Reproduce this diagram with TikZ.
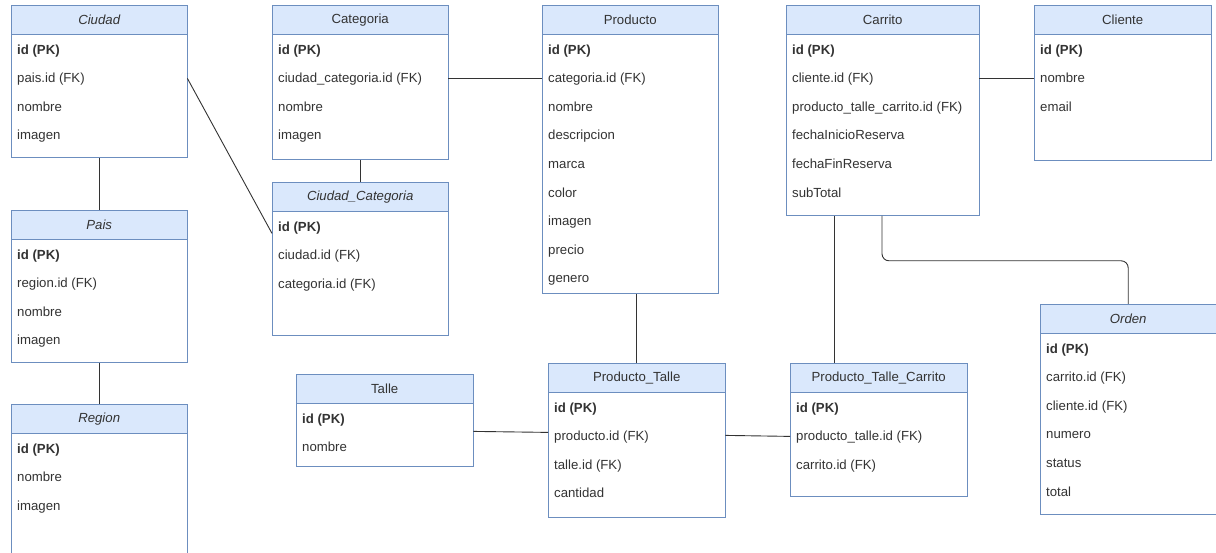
\documentclass[tikz,border=0pt]{standalone}
\usepackage{fontspec}
\setmainfont{Liberation Sans}
\usetikzlibrary{positioning}

\definecolor{erfill}{HTML}{DAE8FC}
\definecolor{erline}{HTML}{6C8EBF}
\definecolor{ertext}{HTML}{333333}

\begin{document}
\begin{tikzpicture}[x=1pt, y=-1pt,
      hdr/.style={draw=erline, fill=erfill, anchor=north west, minimum width=176pt,
        minimum height=29pt, inner sep=0pt, text=ertext, font=\fontsize{13.2}{15}\selectfont},
      body/.style={draw=erline, fill=white, minimum width=176pt, inner sep=0pt},
      rows/.style={align=left, inner sep=0pt, text=ertext, font=\fontsize{13.2}{28.6}\selectfont},
      link/.style={draw=black!80, line width=0.9pt}]
    \useasboundingbox (0,0) rectangle (1216,553);
    % left column
    \node[hdr, font=\fontsize{13.2}{15}\itshape] (ciuH) at (11,5) {Ciudad};
    \node[body, below=0pt of ciuH, minimum height=123pt] (ciuB) {};
    \node[rows, below right=10pt and 6pt of ciuH.south west] (ciuR)
      {\textbf{id (PK)}\\pais.id (FK)\\nombre\\imagen};
    \node[hdr, font=\fontsize{13.2}{15}\itshape] (paiH) at (11,210) {Pais};
    \node[body, below=0pt of paiH, minimum height=123pt] (paiB) {};
    \node[rows, below right=10pt and 6pt of paiH.south west] (paiR)
      {\textbf{id (PK)}\\region.id (FK)\\nombre\\imagen};
    \node[hdr, font=\fontsize{13.2}{15}\itshape] (regH) at (11,404) {Region};
    \node[body, below=0pt of regH, minimum height=127pt] (regB) {};
    \node[rows, below right=10pt and 6pt of regH.south west] (regR)
      {\textbf{id (PK)}\\nombre\\imagen};
    % categorias
    \node[hdr] (catH) at (272,5) {Categoria};
    \node[body, below=0pt of catH, minimum height=125pt] (catB) {};
    \node[rows, below right=10pt and 6pt of catH.south west] (catR)
      {\textbf{id (PK)}\\ciudad\_categoria.id (FK)\\nombre\\imagen};
    \node[hdr, font=\fontsize{13.2}{15}\itshape] (ccH) at (272,182) {Ciudad\_Categoria};
    \node[body, below=0pt of ccH, minimum height=124pt] (ccB) {};
    \node[rows, below right=10pt and 6pt of ccH.south west] (ccR)
      {\textbf{id (PK)}\\ciudad.id (FK)\\categoria.id (FK)};
    % productos
    \node[hdr] (prodH) at (542,5) {Producto};
    \node[body, below=0pt of prodH, minimum height=259pt] (prodB) {};
    \node[rows, below right=10pt and 6pt of prodH.south west] (prodR)
      {\textbf{id (PK)}\\categoria.id (FK)\\nombre\\descripcion\\marca\\color\\imagen\\precio\\genero};
    \node[hdr, minimum width=177pt] (talH) at (296,374) {Talle};
    \node[body, below=0pt of talH, minimum width=177pt, minimum height=63pt] (talB) {};
    \node[rows, below right=10pt and 6pt of talH.south west] (talR)
      {\textbf{id (PK)}\\nombre};
    \node[hdr, minimum width=177pt] (ptH) at (548,363) {Producto\_Talle};
    \node[body, below=0pt of ptH, minimum width=177pt, minimum height=125pt] (ptB) {};
    \node[rows, below right=10pt and 6pt of ptH.south west] (ptR)
      {\textbf{id (PK)}\\producto.id (FK)\\talle.id (FK)\\cantidad};
    % carrito
    \node[hdr, minimum width=193pt] (carH) at (786,5) {Carrito};
    \node[body, below=0pt of carH, minimum width=193pt, minimum height=181pt] (carB) {};
    \node[rows, below right=10pt and 6pt of carH.south west] (carR)
      {\textbf{id (PK)}\\cliente.id (FK)\\producto\_talle\_carrito.id (FK)\\fechaInicioReserva\\fechaFinReserva\\subTotal};
    \node[hdr, minimum width=177pt] (cliH) at (1034,5) {Cliente};
    \node[body, below=0pt of cliH, minimum width=177pt, minimum height=126pt] (cliB) {};
    \node[rows, below right=10pt and 6pt of cliH.south west] (cliR)
      {\textbf{id (PK)}\\nombre\\email};
    \node[hdr, minimum width=177pt] (ptcH) at (790,363) {Producto\_Talle\_Carrito};
    \node[body, below=0pt of ptcH, minimum width=177pt, minimum height=104pt] (ptcB) {};
    \node[rows, below right=10pt and 6pt of ptcH.south west] (ptcR)
      {\textbf{id (PK)}\\producto\_talle.id (FK)\\carrito.id (FK)};
    \node[hdr, minimum width=180pt, font=\fontsize{13.2}{15}\itshape] (ordH) at (1040,304) {\hspace*{-4pt}Orden};
    \node[body, below=0pt of ordH, minimum width=180pt, minimum height=181pt] (ordB) {};
    \node[rows, below right=10pt and 6pt of ordH.south west] (ordR)
      {\textbf{id (PK)}\\carrito.id (FK)\\cliente.id (FK)\\numero\\status\\total};
    % relaciones
    \draw[link] (ciuB.south) -- (paiH.north);
    \draw[link] (paiB.south) -- (regH.north);
    \draw[link] (catB.south) -- (ccH.north);
    \draw[link] ([yshift=-44pt]ciuB.north east) -- ([yshift=-22pt]ccB.north west);
    \draw[link] ([yshift=-44pt]catB.north east) -- ([yshift=-44pt]prodB.north west);
    \draw[link] (ptH.north |- prodB.south) -- (ptH.north);
    \draw[link] ([yshift=-44pt]carB.north east) -- ([yshift=-44pt]cliB.north west);
    \draw[link] ([xshift=48pt]carB.south west) -- ([xshift=48pt]carB.south west |- ptcH.north);
    \draw[link, rounded corners=7pt] ([xshift=96pt]carB.south west) -- ++(0,45) -| ([xshift=-2pt]ordH.north);
    \draw[link] ([yshift=-28pt]talB.north east) -- ([yshift=-40pt]ptB.north west);
    \draw[link] ([yshift=-43pt]ptB.north east) -- ([yshift=-44pt]ptcB.north west);
  \end{tikzpicture}
\end{document}
